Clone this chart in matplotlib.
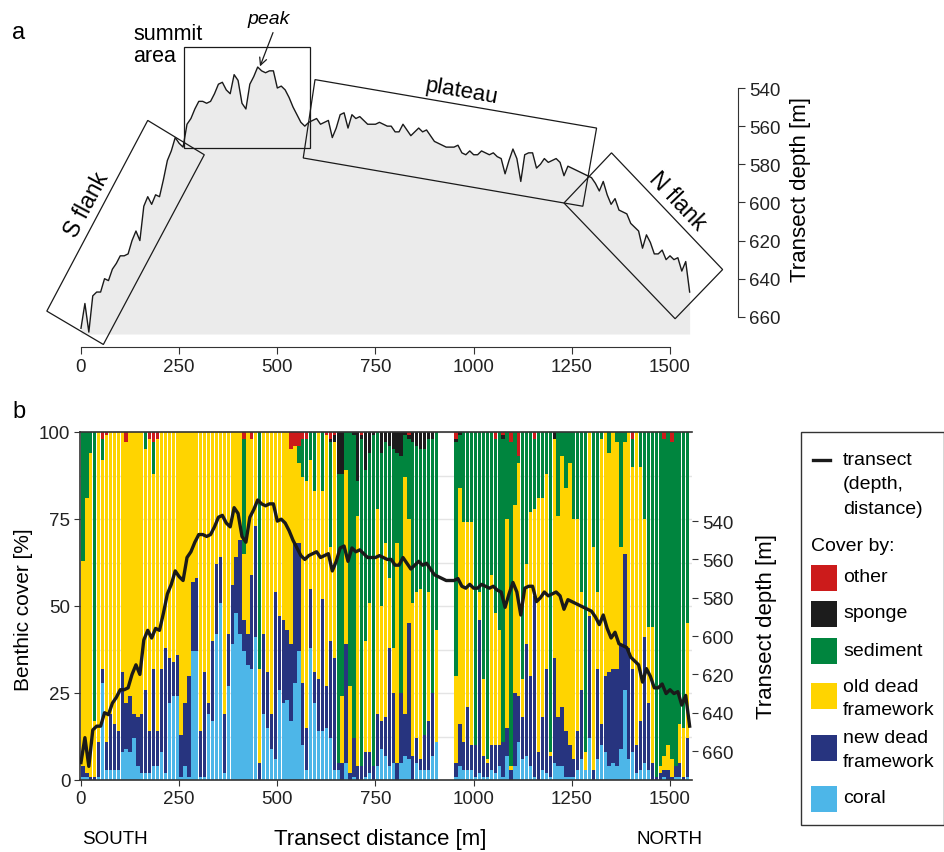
import numpy as np
import matplotlib
matplotlib.use("Agg")
import matplotlib.pyplot as plt
from matplotlib.patches import Polygon, Rectangle
from matplotlib.lines import Line2D

plt.rcParams['font.family'] = ['Liberation Sans', 'DejaVu Sans']
plt.rcParams['font.size'] = 13

# transect profile: depth [m] every 10 m along the transect
profile_distance = np.arange(0, 1560, 10)
profile_depth = [
    666, 653, 668, 649, 647, 647, 640, 641, 635, 632,
    628, 628, 627, 620, 615, 620, 602, 597, 601, 596,
    597, 588, 578, 573, 566, 569, 571, 559, 556, 551,
    547, 547, 548, 547, 543, 538, 537, 541, 543, 533,
    536, 548, 551, 538, 534, 529, 531, 532, 531, 531,
    540, 539, 541, 545, 550, 554, 558, 560, 558, 557,
    556, 559, 558, 557, 566, 561, 554, 553, 561, 554,
    556, 555, 557, 559, 559, 559, 558, 559, 560, 560,
    563, 563, 559, 562, 565, 563, 561, 563, 562, 565,
    568, 569, 570, 571, 571, 571, 570, 574, 575, 573,
    575, 575, 573, 574, 575, 574, 576, 577, 585, 578,
    572, 577, 589, 575, 574, 574, 582, 580, 577, 579,
    578, 577, 579, 586, 581, 582, 583, 584, 585, 586,
    587, 590, 594, 589, 596, 601, 598, 604, 605, 606,
    611, 613, 615, 624, 617, 621, 627, 627, 625, 630,
    628, 630, 629, 636, 631, 647,
]

# benthic cover per 10 m bin (no imagery between 910 and 950 m)
# values are the cumulative top [%] of each cover class, stacked bottom-up
bin_start = np.r_[0:910:10, 950:1550:10]
coral_top = [
    1, 1, 0, 0, 1, 28, 3, 3, 3, 3,
    8, 9, 8, 12, 4, 2, 2, 2, 4, 4,
    8, 2, 22, 24, 24, 1, 4, 1, 37, 37,
    1, 1, 19, 17, 42, 51, 2, 27, 39, 48,
    42, 37, 33, 32, 41, 0, 19, 15, 9, 6,
    26, 22, 23, 17, 28, 37, 10, 3, 38, 22,
    14, 14, 15, 12, 3, 3, 0, 5, 0, 1,
    0, 0, 1, 2, 0, 4, 9, 7, 4, 5,
    0, 5, 7, 6, 0, 5, 3, 3, 3, 7,
    11,
    1, 4, 3, 3, 3, 1, 2, 1, 1, 3,
    2, 4, 1, 7, 0, 4, 11, 6, 7, 4,
    1, 0, 3, 2, 1, 5, 4, 4, 1, 1,
    1, 3, 6, 3, 12, 0, 6, 10, 8, 4,
    5, 4, 9, 26, 6, 8, 2, 3, 5, 3,
    0, 0, 0, 1, 0, 0, 1, 1, 0, 1,
]
newdead_top = [
    4, 2, 1, 1, 11, 32, 11, 19, 16, 14,
    31, 22, 24, 19, 18, 19, 26, 14, 32, 14,
    32, 38, 35, 34, 36, 13, 22, 30, 57, 58,
    14, 31, 22, 40, 62, 64, 19, 42, 56, 64,
    69, 46, 42, 59, 73, 5, 42, 31, 19, 54,
    47, 46, 43, 39, 68, 68, 28, 15, 55, 31,
    29, 52, 27, 40, 35, 5, 5, 39, 2, 12,
    4, 4, 8, 8, 4, 19, 17, 18, 38, 25,
    5, 25, 19, 45, 7, 12, 6, 13, 17, 25,
    11,
    5, 16, 11, 21, 10, 10, 46, 7, 5, 10,
    10, 10, 11, 15, 3, 25, 24, 18, 39, 30,
    53, 8, 18, 32, 7, 35, 18, 21, 14, 10,
    6, 14, 26, 3, 47, 3, 32, 16, 30, 31,
    32, 32, 39, 65, 38, 32, 10, 17, 41, 22,
    5, 1, 2, 3, 3, 1, 4, 5, 1, 12,
]
olddead_top = [
    63, 81, 94, 17, 100, 92, 99, 100, 100, 100,
    100, 97, 100, 100, 100, 100, 95, 98, 88, 98,
    100, 100, 100, 100, 100, 100, 100, 100, 100, 100,
    100, 100, 100, 100, 100, 100, 100, 100, 100, 100,
    100, 65, 100, 98, 100, 32, 100, 100, 100, 100,
    100, 100, 100, 95, 96, 91, 87, 86, 92, 83,
    100, 83, 99, 67, 97, 5, 24, 89, 27, 12,
    76, 4, 40, 51, 4, 78, 50, 68, 58, 38,
    68, 25, 87, 75, 51, 54, 55, 13, 54, 25,
    43,
    30, 84, 74, 74, 74, 10, 54, 29, 6, 59,
    48, 43, 11, 75, 4, 79, 91, 29, 62, 77,
    78, 81, 81, 88, 8, 98, 76, 93, 84, 91,
    75, 75, 54, 8, 100, 67, 54, 98, 100, 94,
    100, 97, 67, 97, 100, 90, 100, 90, 75, 44,
    44, 1, 4, 7, 10, 6, 4, 16, 15, 45,
]
sediment_top = [
    100, 100, 100, 100, 100, 98, 99, 100, 100, 100,
    100, 97, 100, 100, 100, 100, 100, 98, 97, 98,
    100, 100, 100, 100, 100, 100, 100, 100, 100, 100,
    100, 100, 100, 100, 100, 100, 100, 100, 100, 100,
    100, 98, 100, 98, 100, 100, 100, 100, 100, 100,
    100, 100, 100, 95, 96, 96, 98, 98, 100, 100,
    100, 100, 99, 97, 97, 88, 88, 100, 100, 99,
    86, 98, 89, 94, 99, 100, 94, 97, 96, 95,
    94, 93, 99, 98, 97, 96, 95, 95, 98, 98,
    100,
    97, 99, 100, 100, 100, 100, 100, 100, 100, 100,
    98, 100, 98, 100, 97, 100, 93, 100, 100, 100,
    98, 100, 100, 100, 100, 98, 100, 100, 100, 100,
    100, 100, 100, 100, 100, 100, 100, 100, 100, 100,
    100, 100, 100, 100, 100, 98, 100, 100, 100, 100,
    100, 100, 100, 98, 100, 97, 100, 100, 100, 100,
]
sponge_top = [
    100, 100, 100, 100, 100, 98, 99, 100, 100, 100,
    100, 97, 100, 100, 100, 100, 100, 98, 97, 98,
    100, 100, 100, 100, 100, 100, 100, 100, 100, 100,
    100, 100, 100, 100, 100, 100, 100, 100, 100, 100,
    100, 98, 100, 98, 100, 100, 100, 100, 100, 100,
    100, 100, 100, 95, 96, 96, 98, 98, 100, 100,
    100, 100, 99, 98, 99, 100, 100, 100, 100, 100,
    100, 99, 100, 100, 100, 100, 100, 100, 100, 100,
    100, 100, 100, 99, 100, 100, 100, 100, 100, 100,
    100,
    98, 100, 100, 100, 100, 100, 100, 100, 100, 100,
    98, 100, 99, 100, 97, 100, 93, 100, 100, 100,
    98, 100, 100, 100, 100, 100, 100, 100, 100, 100,
    100, 100, 100, 100, 100, 100, 100, 100, 100, 100,
    100, 100, 100, 100, 100, 98, 100, 100, 100, 100,
    100, 100, 100, 98, 100, 97, 100, 100, 100, 100,
]

cover_labels = ['coral', 'new dead\nframework', 'old dead\nframework',
                'sediment', 'sponge', 'other']
cover_colors = ['#4db6e8', '#27347f', '#ffd400', '#00853e', '#1c1c1c', '#cc1b1b']

# box outlines of the seamount sections (distance [m], depth [m])
sections = {
    'S flank': [(-87, 657), (170, 557), (314, 575), (57, 674.5)],
    'summit': [(262, 518.5), (583, 518.5), (583, 571.4), (262, 571.4)],
    'plateau': [(596, 535.6), (1313, 561), (1278, 602), (566, 576.7)],
    'N flank': [(1351, 574), (1634, 635.2), (1513, 661), (1230, 600.3)],
}

W, H = 945, 853
DARK = '#333333'
TICK = 13.5


def px_rect(left, top, right, bottom):
    return [left / W, 1 - bottom / H, (right - left) / W, (bottom - top) / H]


def fx(x):
    return x / W


def fy(y):
    return 1 - y / H


fig = plt.figure(figsize=(W / 100, H / 100), dpi=100)

# ---------------- panel a: profile
ax_a = fig.add_axes(px_rect(80, 40, 692, 335))
ax_a.fill_between(profile_distance, profile_depth, 669, color='#ebebeb', lw=0)
ax_a.plot(profile_distance, profile_depth, color='#1a1a1a', lw=1.0)
ax_a.set_xlim(-2.5, 1556)
ax_a.set_ylim(669, 514.3)
for name in ['top', 'left']:
    ax_a.spines[name].set_visible(False)
ax_a.spines['bottom'].set_position(('outward', 9.4))
ax_a.spines['bottom'].set_bounds(0, 1500)
ax_a.spines['right'].set_position(('outward', 33))
ax_a.spines['right'].set_bounds(540, 660)
for name in ['bottom', 'right']:
    ax_a.spines[name].set_color(DARK)
ax_a.yaxis.tick_right()
ax_a.set_yticks(range(540, 661, 20))
ax_a.set_xticks(range(0, 1501, 250))
ax_a.tick_params(labelsize=TICK, colors='#222222', length=5, color=DARK, pad=3)

for name, pts in sections.items():
    ax_a.add_patch(Polygon(pts, closed=True, fill=False, edgecolor='#1a1a1a',
                           lw=0.9, clip_on=False))

fig.text(fx(801), fy(190), 'Transect depth [m]', rotation=90,
         ha='center', va='center', fontsize=16)
fig.text(fx(133), fy(34), 'summit', ha='left', va='center', fontsize=15.5)
fig.text(fx(133), fy(57), 'area', ha='left', va='center', fontsize=15.5)
fig.text(fx(269), fy(19), 'peak', ha='center', va='center', fontsize=14,
         style='italic')
ax_a.annotate('', xy=(fx(259), fy(70)), xycoords='figure fraction',
              xytext=(fx(274), fy(31)), textcoords='figure fraction',
              arrowprops=dict(arrowstyle='->', lw=0.9, color='#1a1a1a'))
fig.text(fx(462), fy(92), 'plateau', rotation=-9.8, ha='center', va='center',
         fontsize=16, rotation_mode='anchor')
fig.text(fx(87), fy(205), 'S flank', rotation=62, ha='center', va='center',
         fontsize=16.5, rotation_mode='anchor')
fig.text(fx(677), fy(201), 'N flank', rotation=-46.4, ha='center', va='center',
         fontsize=16.5, rotation_mode='anchor')

# ---------------- panel b: benthic cover
ax_b = fig.add_axes(px_rect(80, 433, 692, 781))
centers = bin_start + 5
tops = [np.zeros(len(centers)), np.array(coral_top), np.array(newdead_top),
        np.array(olddead_top), np.array(sediment_top), np.array(sponge_top),
        np.full(len(centers), 100)]
for i, color in enumerate(cover_colors):
    ax_b.bar(centers, tops[i + 1] - tops[i], bottom=tops[i], width=8.4,
             color=color, linewidth=0)

ax_b.set_axisbelow(True)
ax_b.set_xlim(-2.5, 1556)
ax_b.set_ylim(0, 100)
ax_b.set_yticks([0, 25, 50, 75, 100])
ax_b.set_yticks(np.arange(0, 101, 12.5), minor=True)
ax_b.grid(True, which='both', axis='y', color='#e4e4e4', lw=1)
ax_b.set_xticks(range(0, 1501, 250))
ax_b.tick_params(labelsize=TICK, colors='#222222', length=4, color=DARK, pad=3)
ax_b.tick_params(which='minor', length=0)
ax_b.spines['right'].set_visible(False)
for name in ['top', 'left', 'bottom']:
    ax_b.spines[name].set_color(DARK)
    ax_b.spines[name].set_linewidth(1.2)

ax_t = ax_b.twinx()
ax_t.plot(profile_distance, profile_depth, color='#1a1a1a', lw=2.4)
ax_t.set_xlim(-2.5, 1556)
ax_t.set_ylim(675.1, 493.5)
ax_t.set_yticks(range(540, 661, 20))
ax_t.tick_params(labelsize=TICK, colors='#222222', length=4, color=DARK, pad=3)
for s in ax_t.spines.values():
    s.set_visible(False)

fig.text(fx(24), fy(610), 'Benthic cover [%]', rotation=90,
         ha='center', va='center', fontsize=15)
fig.text(fx(767), fy(627), 'Transect depth [m]', rotation=90,
         ha='center', va='center', fontsize=16)
fig.text(fx(380), fy(840), 'Transect distance [m]', ha='center', va='center',
         fontsize=16)
fig.text(fx(82), fy(840), 'SOUTH', ha='left', va='center', fontsize=13.5)
fig.text(fx(703), fy(840), 'NORTH', ha='right', va='center', fontsize=13.5)

fig.text(fx(12), fy(33), 'a', fontsize=17, va='center')
fig.text(fx(12), fy(412), 'b', fontsize=17, va='center')

# ---------------- legend
fig.add_artist(Rectangle((fx(801), fy(826)), fx(944) - fx(801), fy(433) - fy(826),
                         transform=fig.transFigure, fill=False,
                         edgecolor=DARK, lw=1))
fig.add_artist(Line2D([fx(813), fx(830)], [fy(461), fy(461)],
                      transform=fig.transFigure, color='#1a1a1a', lw=2.4))
for y, txt in [(461, 'transect'), (485, '(depth,'), (509, 'distance)')]:
    fig.text(fx(843), fy(y), txt, ha='left', va='center', fontsize=14)
fig.text(fx(811), fy(547), 'Cover by:', ha='left', va='center', fontsize=14)

legend_rows = [(566, 5), (602, 4), (639, 3), (684, 2), (736, 1), (787, 0)]
for top, idx in legend_rows:
    fig.add_artist(Rectangle((fx(811), fy(top + 26)), fx(837) - fx(811),
                             fy(top) - fy(top + 26), transform=fig.transFigure,
                             color=cover_colors[idx], lw=0))
    lines = cover_labels[idx].split('\n')
    if len(lines) == 1:
        fig.text(fx(843), fy(top + 12), lines[0], ha='left', va='center',
                 fontsize=14)
    else:
        fig.text(fx(843), fy(top + 3), lines[0], ha='left', va='center',
                 fontsize=14)
        fig.text(fx(843), fy(top + 27), lines[1], ha='left', va='center',
                 fontsize=14)

fig.savefig('out.png', dpi=100)
